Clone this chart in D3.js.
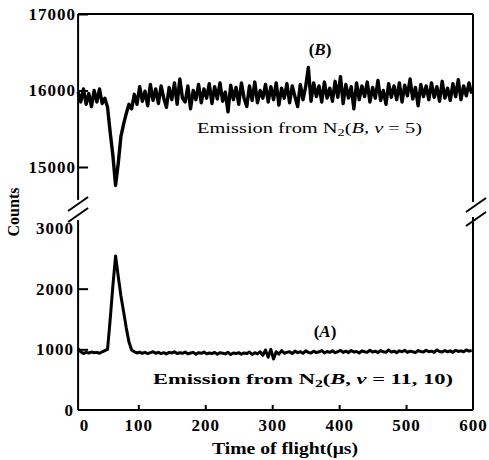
<!DOCTYPE html>
<html>
<head>
<meta charset="utf-8">
<script src="https://cdn.jsdelivr.net/npm/d3@7"></script>
<style>
  html, body { margin: 0; padding: 0; background: #fff; }
  svg { display: block; }
  text { font-family: "Liberation Serif", "DejaVu Serif", serif; fill: #000; }
</style>
</head>
<body>
<svg id="chart" width="489" height="460"></svg>
<script>
// ---------------- data ----------------
const timeStart = 10;          // µs, first sample (left axis)
const timeStep = 4;            // µs between samples
const xTicks = [100, 200, 300, 400, 500, 600];
const xTickLabels = ["100", "200", "300", "400", "500", "600"];
const topTicks = [15000, 16000, 17000];
const bottomTicks = [0, 1000, 2000, 3000];

// (B) Emission from N2(B, v=5): counts
const countsB = [
  15980, 15850, 16020, 15820, 15960, 15790, 16000, 15850, 16020, 15830,
  15900, 15780, 15450, 15150, 14760, 15050, 15400, 15560, 15700, 15820,
  15760, 15950, 15820, 16050, 15860, 15990, 15800, 16080, 15870, 16020,
  15830, 16060, 15900, 15780, 16040, 15880, 16100, 15820, 16150, 15900,
  15850, 16060, 15760, 16000, 15880, 16080, 15840, 16020, 15900, 16090,
  15830, 16050, 15890, 16100, 15860, 15980, 15720, 16070, 15880, 16040,
  15820, 16100, 15900, 15790, 16060, 15870, 16110, 15840, 16000, 15900,
  16080, 15850, 16050, 15880, 16100, 15810, 16030, 15900, 16090, 15840,
  16060, 15920, 15790, 16080, 15880, 16050, 16300, 15860, 16100, 15920,
  16060, 15850, 16110, 15900, 16030, 15860, 16120, 15910, 16180, 15830,
  16080, 15900, 16050, 15760, 16100, 15880, 16060, 15920, 16110, 15850,
  16040, 15900, 16130, 15870, 16000, 15820, 16090, 15910, 16060, 15880,
  16100, 15850, 16070, 15930, 16150, 15890, 16040, 15800, 16080, 15920,
  16060, 15880, 16100, 15910, 16050, 15860, 16120, 15900, 16030, 15870,
  16090, 15920, 16140, 15880, 16060, 15930, 16100, 15960
];

// (A) Emission from N2(B, v=11,10): counts
const countsA = [
  1010, 960, 930, 950, 940, 955, 945, 950, 935, 960,
  980, 1000, 1500, 2050, 2540, 2200, 1880, 1620, 1350, 1120,
  990, 960, 940, 955, 935, 950, 930, 945, 960, 935,
  950, 930, 945, 925, 950, 940, 960, 930, 945, 935,
  955, 925, 940, 950, 920, 945, 935, 955, 925, 940,
  930, 950, 920, 945, 935, 925, 950, 915, 940, 930,
  945, 920, 940, 930, 955, 915, 945, 925, 960, 900,
  990, 870, 1000, 840, 960, 920, 980, 935, 950, 960,
  930, 970, 945, 960, 935, 975, 950, 940, 970, 945,
  960, 980, 940, 965, 950, 975, 945, 960, 985, 950,
  970, 945, 980, 955, 965, 940, 975, 960, 950, 985,
  955, 970, 945, 980, 960, 950, 990, 955, 970, 945,
  975, 960, 985, 950, 970, 960, 945, 980, 965, 955,
  985, 960, 970, 950, 990, 965, 955, 980, 960, 975,
  950, 985, 965, 975, 960, 990, 970, 980
];

// ---------------- scales ----------------
const svg = d3.select("#chart");
const x = d3.scaleLinear().domain([0, 600]).range([71.4, 473]);
const yTop = d3.scaleLinear().domain([15000, 17000]).range([167, 14]);
const yBot = d3.scaleLinear().domain([0, 3000]).range([410, 228]);

const topLow = 14570;   // where upper panel axis is broken
const botHigh = 3130;   // where lower panel axis starts

const xLeft = x(timeStart), xRight = x(600);

// ---------------- frame / axes lines ----------------
const g = svg.append("g");
const lineStyle = s => s.attr("stroke", "#000").attr("stroke-width", 2).attr("fill", "none");

g.append("line").attr("x1", xLeft).attr("x2", xLeft).attr("y1", yTop(17000)).attr("y2", yTop(topLow)).call(lineStyle);
g.append("line").attr("x1", xLeft).attr("x2", xLeft).attr("y1", yBot(botHigh)).attr("y2", yBot(0)).call(lineStyle);
g.append("line").attr("x1", xRight).attr("x2", xRight).attr("y1", yTop(17000)).attr("y2", yTop(topLow) + 2).call(lineStyle);
g.append("line").attr("x1", xRight).attr("x2", xRight).attr("y1", yBot(botHigh) - 3).attr("y2", yBot(0)).call(lineStyle);
g.append("line").attr("x1", xLeft).attr("x2", xRight).attr("y1", yTop(17000)).attr("y2", yTop(17000)).call(lineStyle);
g.append("line").attr("x1", xLeft).attr("x2", xRight).attr("y1", yBot(0)).attr("y2", yBot(0)).call(lineStyle);

function breakMarks(cx, cy1, cy2) {
  [cy1, cy2].forEach(cy => {
    g.append("line")
      .attr("x1", cx - 10).attr("y1", cy + 7)
      .attr("x2", cx + 10).attr("y2", cy - 7)
      .call(lineStyle);
  });
}
breakMarks(xLeft, 204, 215);
breakMarks(xRight + 3, 205, 219);

// ---------------- axes (ticks & labels) ----------------
const tickFont = s => s.selectAll("text")
  .attr("font-size", 17).attr("font-weight", "bold")
  .attr("letter-spacing", "1px")
  .attr("font-family", "'Liberation Serif', serif");

const axTop = svg.append("g").attr("transform", `translate(${xLeft},0)`)
  .call(d3.axisLeft(yTop).tickValues(topTicks).tickFormat(d3.format("d"))
        .tickSizeInner(-10).tickSizeOuter(0).tickPadding(2));
axTop.select(".domain").remove();
axTop.selectAll("line").attr("stroke-width", 2);
axTop.call(tickFont);

const axBot = svg.append("g").attr("transform", `translate(${xLeft},0)`)
  .call(d3.axisLeft(yBot).tickValues(bottomTicks).tickFormat(d3.format("d"))
        .tickSizeInner(-10).tickSizeOuter(0).tickPadding(4));
axBot.select(".domain").remove();
axBot.selectAll("line").attr("stroke-width", 2);
axBot.selectAll(".tick").filter(d => d === 0 || d === 3000).select("line").remove();
axBot.call(tickFont);

const axX = svg.append("g").attr("transform", `translate(0,${yBot(0)})`)
  .call(d3.axisBottom(x).tickValues(xTicks).tickFormat((d, i) => xTickLabels[i])
        .tickSizeInner(-5).tickSizeOuter(0).tickPadding(9));
axX.select(".domain").remove();
axX.selectAll("line").attr("stroke-width", 2);
axX.selectAll(".tick").filter(d => d === 600).select("line").remove();
axX.call(tickFont);
svg.append("text").attr("x", xLeft + 6).attr("y", yBot(0) + 21)
  .attr("text-anchor", "middle").attr("font-size", 17).attr("font-weight", "bold")
  .text("0");

// ---------------- data lines ----------------
const timeOf = i => timeStart + i * timeStep;

const lineB = d3.line().x((d, i) => x(timeOf(i))).y(d => yTop(d));
svg.append("path").datum(countsB)
  .attr("d", lineB).attr("fill", "none").attr("stroke", "#000")
  .attr("stroke-width", 3.4).attr("stroke-linejoin", "round");

const lineA = d3.line().x((d, i) => x(timeOf(i))).y(d => yBot(d));
svg.append("path").datum(countsA)
  .attr("d", lineA).attr("fill", "none").attr("stroke", "#000")
  .attr("stroke-width", 3).attr("stroke-linejoin", "round");

// ---------------- labels ----------------
function rich(sel, parts) {
  parts.forEach(p => {
    const t = sel.append("tspan").text(p.t);
    if (p.i) t.attr("font-style", "italic");
    if (p.sub) t.attr("font-size", "70%").attr("dy", 3);
    if (p.up) t.attr("dy", -3);
  });
}

svg.append("text").attr("x", 320).attr("y", 55).attr("text-anchor", "middle")
  .attr("font-size", 17).attr("font-weight", "bold")
  .call(s => rich(s, [{t: "("}, {t: "B", i: true}, {t: ")"}]));

svg.append("text").attr("x", 325).attr("y", 337).attr("text-anchor", "middle")
  .attr("font-size", 17).attr("font-weight", "bold")
  .call(s => rich(s, [{t: "("}, {t: "A", i: true}, {t: ")"}]));

svg.append("text").attr("x", 197).attr("y", 133)
  .attr("font-size", 15).attr("textLength", 225).attr("lengthAdjust", "spacingAndGlyphs")
  .call(s => rich(s, [{t: "Emission from N"}, {t: "2", sub: true}, {t: "(", up: true},
                       {t: "B", i: true}, {t: ",  "}, {t: "v", i: true}, {t: " = 5)"}]));

svg.append("text").attr("x", 153).attr("y", 384).attr("font-weight", "bold")
  .attr("font-size", 15).attr("textLength", 300).attr("lengthAdjust", "spacingAndGlyphs")
  .call(s => rich(s, [{t: "Emission from N"}, {t: "2", sub: true}, {t: "(", up: true},
                       {t: "B", i: true}, {t: ",  "}, {t: "v", i: true}, {t: " = 11,  10)"}]));

svg.append("text").attr("x", 285).attr("y", 454).attr("text-anchor", "middle")
  .attr("font-size", 16).attr("font-weight", "bold")
  .attr("textLength", 146).attr("lengthAdjust", "spacingAndGlyphs")
  .text("Time of flight(μs)");

svg.append("text").attr("transform", "translate(19,212) rotate(-90)")
  .attr("text-anchor", "middle").attr("font-size", 16).attr("font-weight", "bold")
  .text("Counts");
</script>
</body>
</html>
